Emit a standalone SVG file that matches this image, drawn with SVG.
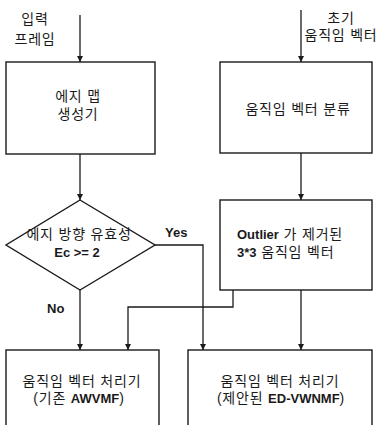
<svg xmlns="http://www.w3.org/2000/svg" width="382" height="425" viewBox="0 0 382 425">
<defs>
<style>
.box{fill:#fff;stroke:#1a1a1a;stroke-width:1.4}
.ln{fill:none;stroke:#1a1a1a;stroke-width:1.3}
text{font-family:"Liberation Sans","Noto Sans CJK KR",sans-serif;font-size:14px;letter-spacing:0.8px;fill:#1a1a1a}
.b{font-weight:bold;font-size:13px;letter-spacing:0}
.c{text-anchor:middle}
</style>
<marker id="ah" viewBox="0 0 10 10" refX="10" refY="5" markerWidth="6" markerHeight="7" markerUnits="userSpaceOnUse" orient="auto">
<path d="M0,0 L10,5 L0,10 z" fill="#1a1a1a"/>
</marker>
</defs>
<rect width="382" height="425" fill="#fff"/>
<g id="connectors">
<path class="ln" d="M80,15 V62" marker-end="url(#ah)"/>
<path class="ln" d="M301,10 V62" marker-end="url(#ah)"/>
<path class="ln" d="M80,154 V200" marker-end="url(#ah)"/>
<path class="ln" d="M301,153 V200" marker-end="url(#ah)"/>
<path class="ln" d="M80,290 V350" marker-end="url(#ah)"/>
<path class="ln" d="M155,245 H203 V350" marker-end="url(#ah)"/>
<path class="ln" d="M233,290 V307 H128 V350" marker-end="url(#ah)"/>
<path class="ln" d="M301,290 V350" marker-end="url(#ah)"/>
</g>
<g id="label-input">
<text class="c" x="35" y="24">입력</text>
<text class="c" x="35" y="44">프레임</text>
</g>
<g id="label-init">
<text class="c" x="341" y="23">초기</text>
<text class="c" x="341" y="40">움직임 벡터</text>
</g>
<g id="edge-map">
<rect class="box" x="6" y="62" width="149" height="92"/>
<text class="c" x="78" y="101">에지 맵</text>
<text class="c" x="78" y="119">생성기</text>
</g>
<g id="mv-class">
<rect class="box" x="220" y="62" width="152" height="91"/>
<text class="c" x="298" y="114">움직임 벡터 분류</text>
</g>
<g id="decision">
<path class="box" d="M80,200 L155,245 L80,290 L6,245 Z"/>
<text class="c" x="79" y="239">에지 방향 유효성</text>
<text class="c b" x="77" y="257">Ec &gt;= 2</text>
</g>
<g id="outlier">
<rect class="box" x="220" y="200" width="152" height="90"/>
<text x="237" y="239"><tspan class="b">Outlier</tspan> 가 제거된</text>
<text x="237" y="257"><tspan class="b">3*3</tspan> 움직임 벡터</text>
</g>
<g id="labels">
<text class="b" x="165" y="237">Yes</text>
<text class="b" x="47" y="313">No</text>
</g>
<g id="proc-old">
<rect class="box" x="6" y="350" width="153" height="80"/>
<text class="c" x="82" y="386">움직임 벡터 처리기</text>
<text class="c" x="79" y="403">(기존 <tspan class="b">AWVMF</tspan>)</text>
</g>
<g id="proc-new">
<rect class="box" x="188" y="350" width="184" height="80"/>
<text class="c" x="280" y="386">움직임 벡터 처리기</text>
<text class="c" x="281" y="403">(제안된 <tspan class="b">ED-VWNMF</tspan>)</text>
</g>
</svg>
